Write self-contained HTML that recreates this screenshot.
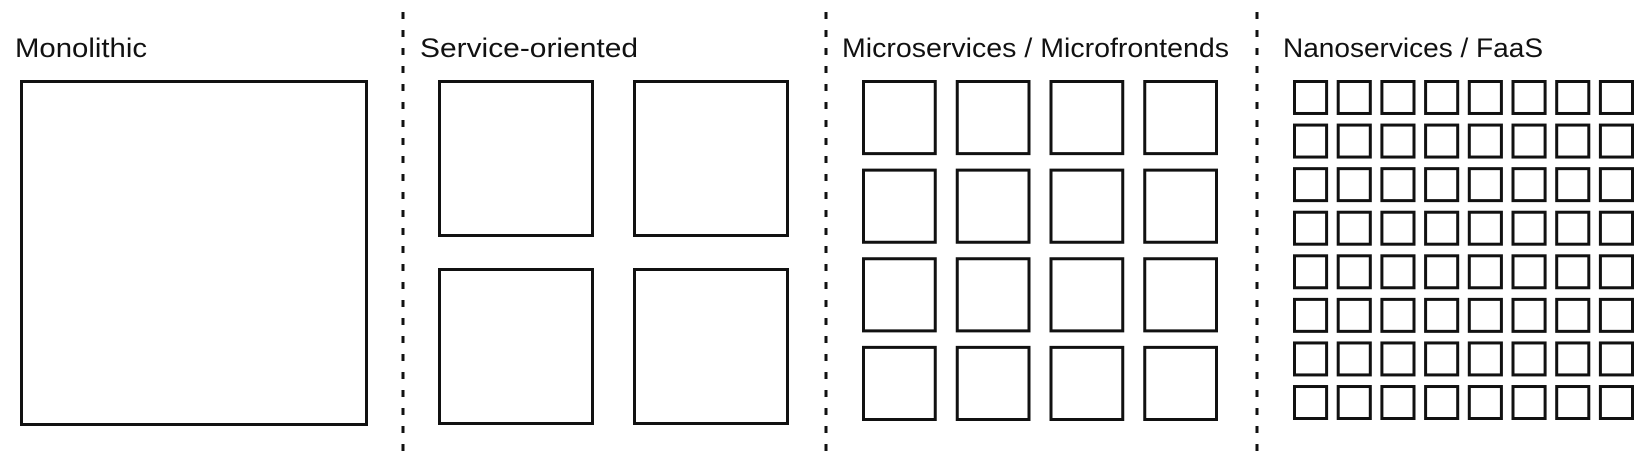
<!DOCTYPE html>
<html><head><meta charset="utf-8"><style>
html,body{margin:0;padding:0;background:#fff;}
svg{display:block;}
text{font-family:"Liberation Sans",sans-serif;font-size:27px;fill:#111;}
</style></head><body>
<svg width="1650" height="469" viewBox="0 0 1650 469">
<g id="g"></g>
</svg>
<script>
const titles=["Monolithic","Service-oriented","Microservices / Microfrontends","Nanoservices / FaaS"];
const titleX=[15,420,842,1283];
const titleW=[132,218,387,260];
const gridN=[1,2,4,8];
const areaX=[20,438,862,1293];
const areaW=[348,351,356,341];
const areaTop=80;
const areaH=[346,345,341,340];
const gapX=[0,39,19,8.6];
const gapY=[0,31,13.5,8.6];
const dividers=[403,826,1257];
const ns="http://www.w3.org/2000/svg";
const g=document.getElementById('g');
for(let i=0;i<titles.length;i++){
  const t=document.createElementNS(ns,'text');
  
  
  t.setAttribute('x',titleX[i]);t.setAttribute('y',57);
  t.setAttribute('textLength',titleW[i]);t.setAttribute('lengthAdjust','spacingAndGlyphs');
  t.textContent=titles[i];g.appendChild(t);
  const n=gridN[i];
  const cw=(areaW[i]-gapX[i]*(n-1))/n, ch=(areaH[i]-gapY[i]*(n-1))/n;
  for(let r=0;r<n;r++)for(let c=0;c<n;c++){
    const b=document.createElementNS(ns,'rect');
    
    
    b.setAttribute('x',areaX[i]+c*(cw+gapX[i])+1.5);
    b.setAttribute('y',areaTop+r*(ch+gapY[i])+1.5);
    b.setAttribute('width',cw-3);b.setAttribute('height',ch-3);
    b.setAttribute('fill','none');b.setAttribute('stroke','#111');b.setAttribute('stroke-width','3');
    g.appendChild(b);
  }
}
for(const x of dividers){
  const l=document.createElementNS(ns,'line');
  
  
  l.setAttribute('x1',x);l.setAttribute('x2',x);l.setAttribute('y1',12);l.setAttribute('y2',457);
  l.setAttribute('stroke','#111');l.setAttribute('stroke-width','3');l.setAttribute('stroke-dasharray','7 11');
  g.appendChild(l);
}
</script>
</body></html>
